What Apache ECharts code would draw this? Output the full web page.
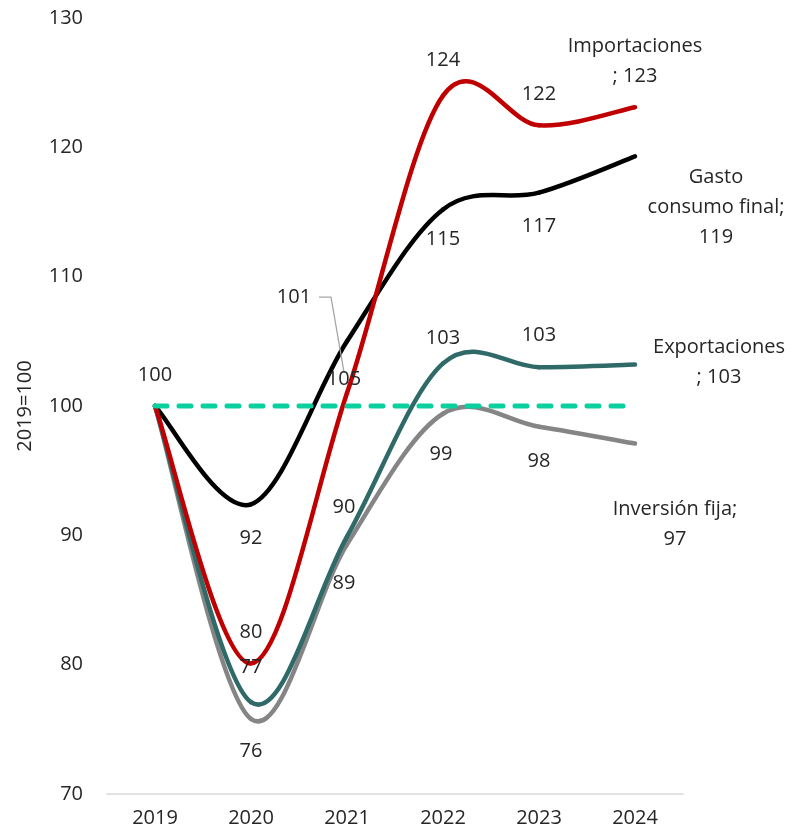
<!DOCTYPE html>
<html>
<head>
<meta charset="utf-8">
<script src="https://cdn.jsdelivr.net/npm/echarts@6/dist/echarts.min.js"></script>
<style>
html,body{margin:0;padding:0;background:#fff;}
#chart{width:792px;height:834px;}
</style>
</head>
<body>
<div id="chart"></div>
<script>
// ---- data ----
const categories = ['2019', '2020', '2021', '2022', '2023', '2024'];
const importaciones = [100, 80.1, 101, 124, 121.7, 123.1];
const gastoConsumoFinal = [100, 92.4, 105, 115.2, 116.5, 119.3];
const exportaciones = [100, 77.1, 89.9, 103.3, 103.0, 103.2];
const inversionFija = [100, 75.8, 89.3, 99.4, 98.4, 97.1];
const referencia = [100, 100, 100, 100, 100, 100];
const yTicks = { min: 70, max: 130, interval: 10 };
const axisName = '2019=100';
const endLabelText = {
  'Importaciones': 'Importaciones\n; ',
  'Gasto consumo final': 'Gasto\nconsumo final;\n',
  'Exportaciones': 'Exportaciones\n; ',
  'Inversión fija': 'Inversión fija;\n'
};

// ---- label placement (styles, pixel offsets from the point) ----
const labelOffsets = {
  'Importaciones':       [null, [0, -31], [-53, -96], [0, -35], [0, -31], [0, -46]],
  'Gasto consumo final': [[0, -31], [0, 34], [-3, 38], [0, 30], [0, 34], [81, 51]],
  'Exportaciones':       [null, [0, -35], [-3, -29], [0, -25], [0, -32], [84, -2]],
  'Inversión fija':      [null, [0, 32], [-3, 39], [-2, 41], [0, 35], [40, 81]]
};
// leader line for the moved label (offsets relative to the point)
const leader = { series: 'Importaciones', index: 2, path: [[-28, -96], [-16, -96], [-3, -21]] };

const FONT = "'Open Sans', 'Noto Sans', sans-serif";
const TXT = '#262626';

// Smooth curve (Catmull-Rom style bezier, like spreadsheet smoothing) drawn through the axes
function curveSeries(name, values, color) {
  const n = values.length;
  return {
    name: name,
    type: 'custom',
    data: values.map((v, i) => [i, v]),
    encode: { x: 0, y: 1 },
    z: 3,
    silent: true,
    renderItem: function (params, api) {
      const i = params.dataIndex;
      const children = [];
      const P = function (k) {
        const kk = Math.max(0, Math.min(n - 1, k));
        return api.coord([kk, values[kk]]);
      };
      if (i < n - 1) {
        const p0 = P(i - 1), p1 = P(i), p2 = P(i + 1), p3 = P(i + 2);
        const t = 1 / 6;
        children.push({
          type: 'bezierCurve',
          shape: {
            x1: p1[0], y1: p1[1], x2: p2[0], y2: p2[1],
            cpx1: p1[0] + (p2[0] - p0[0]) * t, cpy1: p1[1] + (p2[1] - p0[1]) * t,
            cpx2: p2[0] - (p3[0] - p1[0]) * t, cpy2: p2[1] - (p3[1] - p1[1]) * t
          },
          style: { stroke: color, lineWidth: 4.5, fill: 'none', lineCap: 'round' }
        });
      }
      if (name === leader.series && i === leader.index) {
        const c = P(i);
        children.push({
          type: 'polyline',
          z2: 50,
          shape: { points: leader.path.map(d => [c[0] + d[0], c[1] + d[1]]) },
          style: { stroke: '#A6A6A6', lineWidth: 1.3, fill: 'none' }
        });
      }
      return { type: 'group', children: children };
    }
  };
}

// Labels carried by invisible points
function labelSeries(name, values) {
  const offs = labelOffsets[name];
  const n = values.length;
  return {
    name: name + ' etiquetas',
    type: 'scatter',
    data: values.map((v, i) => ({ value: [i, v], label: { show: !!offs[i] } })),
    symbolSize: 1,
    itemStyle: { color: 'rgba(0,0,0,0)', opacity: 1 },
    silent: true,
    z: 10,
    label: {
      show: true,
      position: 'inside',
      fontFamily: FONT,
      fontSize: 20,
      lineHeight: 30,
      color: TXT,
      opacity: 1,
      align: 'center',
      formatter: function (p) {
        if (p.dataIndex === n - 1) {
          return endLabelText[name] + Math.round(p.value[1]);
        }
        return String(Math.round(p.value[1]));
      }
    },
    labelLayout: function (params) {
      const o = offs[params.dataIndex];
      return o ? { dx: o[0], dy: o[1] } : {};
    },
    emphasis: { disabled: true }
  };
}

const chart = echarts.init(document.getElementById('chart'), null, { renderer: 'canvas' });
chart.setOption({
  animation: false,
  backgroundColor: '#ffffff',
  grid: { left: 107, right: 109, top: 18, bottom: 40, containLabel: false },
  xAxis: {
    type: 'category',
    data: categories,
    boundaryGap: true,
    axisLine: { show: true, lineStyle: { color: '#D9D9D9', width: 1.5 } },
    axisTick: { show: false },
    axisLabel: { fontFamily: FONT, fontSize: 20, color: TXT, margin: 14 }
  },
  yAxis: {
    type: 'value',
    min: yTicks.min,
    max: yTicks.max,
    interval: yTicks.interval,
    name: axisName,
    nameLocation: 'middle',
    nameRotate: 90,
    nameGap: 72,
    nameTextStyle: { fontFamily: FONT, fontSize: 20, color: TXT },
    axisLine: { show: false },
    axisTick: { show: false },
    splitLine: { show: false },
    axisLabel: { fontFamily: FONT, fontSize: 20, color: TXT, margin: 24 }
  },
  series: [
    curveSeries('Inversión fija', inversionFija, '#858585'),
    {
      name: 'Referencia',
      type: 'line',
      data: referencia,
      symbol: 'none',
      lineStyle: { color: '#0ACF9F', width: 5, type: [12, 12], cap: 'round' },
      emphasis: { disabled: true },
      silent: true,
      z: 3
    },
    curveSeries('Exportaciones', exportaciones, '#2F6A68'),
    curveSeries('Gasto consumo final', gastoConsumoFinal, '#000000'),
    curveSeries('Importaciones', importaciones, '#C00000'),
    labelSeries('Inversión fija', inversionFija),
    labelSeries('Exportaciones', exportaciones),
    labelSeries('Gasto consumo final', gastoConsumoFinal),
    labelSeries('Importaciones', importaciones)
  ]
});
</script>
</body>
</html>
